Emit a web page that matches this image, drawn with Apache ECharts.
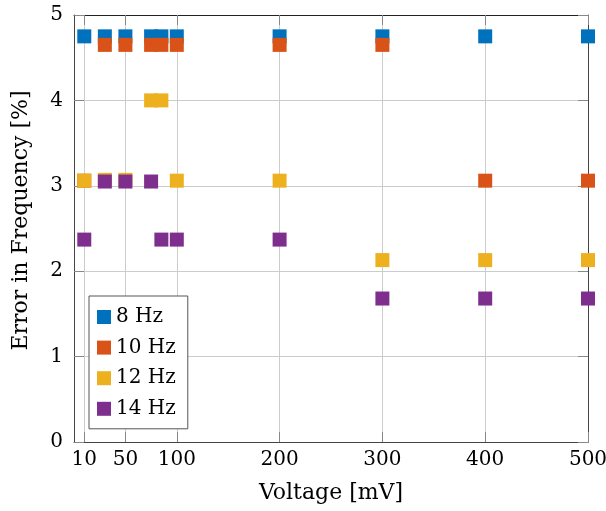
<!DOCTYPE html>
<html>
<head>
<meta charset="utf-8">
<script src="https://cdn.jsdelivr.net/npm/echarts@6/dist/echarts.min.js"></script>
<style>
  html, body { margin: 0; padding: 0; background: #fff; }
  #chart { width: 606px; height: 511px; }
</style>
</head>
<body>
<div id="chart"></div>
<script>
// voltage values (mV) where the points sit
const voltages = [10, 30, 50, 75, 85, 100, 200, 300, 400, 500];
const xTicks = [10, 50, 100, 200, 300, 400, 500];

// error in frequency (%) per series
const err8Hz = [4.75, 4.75, 4.75, 4.75, 4.75, 4.75, 4.75, 4.75, 4.75, 4.75];
const err10Hz = [3.06, 4.65, 4.65, 4.65, 4.65, 4.65, 4.65, 4.65, 3.06, 3.06];
const err12Hz = [3.06, 3.07, 3.07, 4.0, 4.0, 3.06, 3.06, 2.13, 2.13, 2.13];
const err14Hz = [2.37, 3.05, 3.05, 3.05, 2.37, 2.37, 2.37, 1.68, 1.68, 1.68];

const seriesNames = ["8 Hz", "10 Hz", "12 Hz", "14 Hz"];
const seriesColors = ["#0072BD", "#D95319", "#EDB120", "#7E2F8E"];
const seriesValues = [err8Hz, err10Hz, err12Hz, err14Hz];

const font = "DejaVu Serif";
const axisColor = "#444";
const gridColor = "#cccccc";

const chart = echarts.init(document.getElementById("chart"), null, {
  renderer: "canvas",
});

const option = {
  animation: false,
  backgroundColor: "#fff",
  grid: {
    left: 74,
    right: 18,
    top: 15,
    bottom: 69,
    outerBoundsMode: "none",
  },
  legend: {
    data: seriesNames,
    orient: "vertical",
    left: 89,
    top: 296,
    icon: "rect",
    itemWidth: 14,
    itemHeight: 14,
    itemGap: 10.6,
    padding: [11, 12, 10, 8],
    borderColor: "#555",
    borderWidth: 1,
    backgroundColor: "#fff",
    textStyle: {
      fontFamily: font,
      fontSize: 20,
      lineHeight: 20,
      color: "#000",
    },
  },
  xAxis: [
    {
      type: "value",
      min: 0,
      max: 500,
      position: "bottom",
      name: "Voltage [mV]",
      nameLocation: "middle",
      nameGap: 40,
      nameTextStyle: { fontFamily: font, fontSize: 22, color: "#000" },
      axisLine: { show: true, onZero: false, lineStyle: { color: axisColor } },
      axisTick: {
        show: true,
        inside: true,
        length: 10,
        customValues: xTicks,
        lineStyle: { color: "#888" },
      },
      axisLabel: {
        customValues: xTicks,
        fontFamily: font,
        fontSize: 20,
        color: "#000",
        margin: 8,
      },
      splitLine: { show: true, lineStyle: { color: gridColor } },
    },
    {
      // top frame line
      type: "value",
      min: 0,
      max: 500,
      position: "top",
      axisLine: { show: true, onZero: false, lineStyle: { color: "#222" } },
      axisTick: {
        show: true,
        inside: true,
        length: 10,
        customValues: xTicks,
        lineStyle: { color: "#888" },
      },
      axisLabel: { show: false },
      splitLine: { show: false },
    },
  ],
  yAxis: [
    {
      type: "value",
      min: 0,
      max: 5,
      interval: 1,
      position: "left",
      name: "Error in Frequency [%]",
      nameLocation: "middle",
      nameGap: 42,
      nameRotate: 90,
      nameTextStyle: {
        fontFamily: font,
        fontSize: 22,
        color: "#000",
        padding: [0, 0, 0, 16],
      },
      axisLine: { show: true, onZero: false, lineStyle: { color: axisColor } },
      axisTick: {
        show: true,
        inside: true,
        length: 10,
        lineStyle: { color: "#888" },
      },
      axisLabel: {
        fontFamily: font,
        fontSize: 20,
        color: "#000",
        margin: 11,
      },
      splitLine: { show: true, lineStyle: { color: gridColor } },
    },
    {
      // right frame line
      type: "value",
      min: 0,
      max: 5,
      interval: 1,
      position: "right",
      axisLine: { show: true, onZero: false, lineStyle: { color: axisColor } },
      axisTick: {
        show: true,
        inside: true,
        length: 10,
        lineStyle: { color: "#888" },
      },
      axisLabel: { show: false },
      splitLine: { show: false },
    },
  ],
  series: seriesNames.map((name, i) => ({
    name: name,
    type: "scatter",
    symbol: "rect",
    symbolSize: 14,
    itemStyle: { color: seriesColors[i], opacity: 1 },
    emphasis: { disabled: true },
    data: voltages.map((v, j) => [v, seriesValues[i][j]]),
  })),
};

chart.setOption(option);
</script>
</body>
</html>
